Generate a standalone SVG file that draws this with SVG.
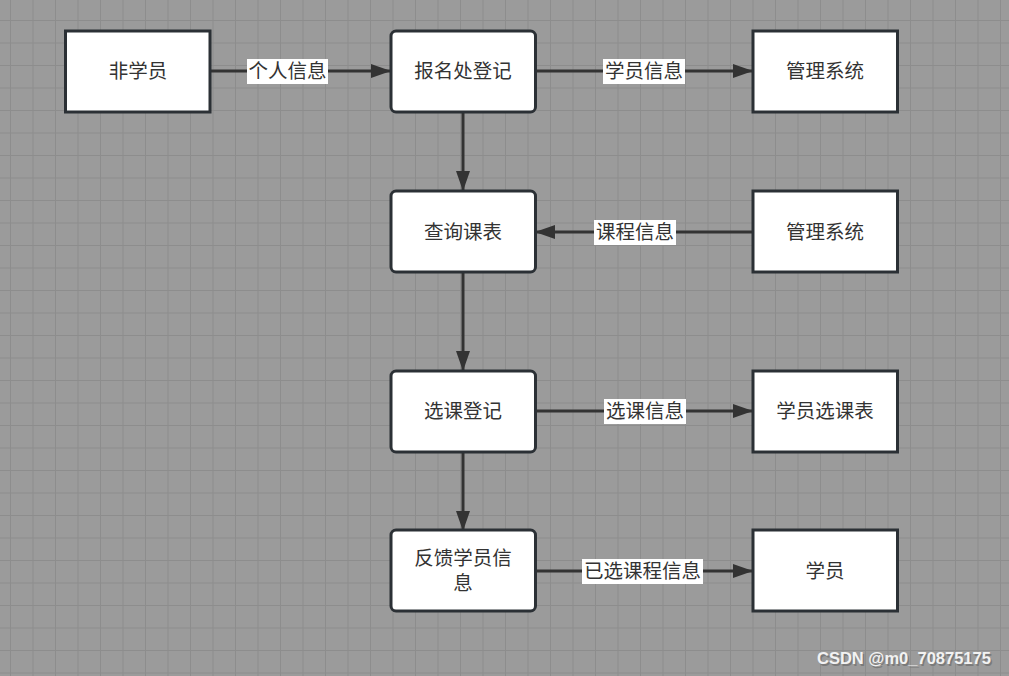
<svg xmlns="http://www.w3.org/2000/svg" width="1009" height="676" viewBox="0 0 1009 676">
<defs>
<pattern id="grid" x="10" y="20" width="22.5" height="22.5" patternUnits="userSpaceOnUse">
<rect width="22.5" height="22.5" fill="#9b9b9b"/>
<path d="M0 0V22.5M0 0H22.5" stroke="#8d8d8d" stroke-width="2" fill="none"/>
</pattern>
<marker id="arr" viewBox="0 0 20 14" refX="19" refY="7" markerWidth="20" markerHeight="14" markerUnits="userSpaceOnUse" orient="auto">
<path d="M0 0L20 7L0 14Z" fill="#333"/>
</marker>
</defs>
<style>
.box{fill:#fff;stroke:#2b3035;stroke-width:3}
.t{font-family:"Noto Sans CJK SC","Liberation Sans",sans-serif;font-size:19.5px;fill:#333;text-anchor:middle}
.ln{stroke:#333;stroke-width:3;fill:none;marker-end:url(#arr)}
.lb{fill:#fff}
.wm{font-family:"Liberation Sans",sans-serif;font-size:16.5px;font-weight:bold}
</style>
<rect width="1009" height="676" fill="url(#grid)"/>
<g id="connectors">
<line class="ln" x1="210" y1="71" x2="390" y2="71"/>
<line class="ln" x1="536" y1="71" x2="752" y2="71"/>
<line class="ln" x1="463" y1="112" x2="463" y2="190"/>
<line class="ln" x1="752" y1="232" x2="536" y2="232"/>
<line class="ln" x1="463" y1="272" x2="463" y2="370"/>
<line class="ln" x1="536" y1="411" x2="752" y2="411"/>
<line class="ln" x1="463" y1="452" x2="463" y2="530"/>
<line class="ln" x1="536" y1="571" x2="752" y2="571"/>
<rect class="lb" x="247" y="59" width="81" height="25"/>
<text class="t" x="287.5" y="78">个人信息</text>
<rect class="lb" x="603" y="59" width="82" height="25"/>
<text class="t" x="644" y="78">学员信息</text>
<rect class="lb" x="594" y="220" width="82" height="25"/>
<text class="t" x="635" y="239">课程信息</text>
<rect class="lb" x="604" y="399" width="82" height="25"/>
<text class="t" x="645" y="418">选课信息</text>
<rect class="lb" x="582" y="559" width="121" height="25"/>
<text class="t" x="642.5" y="578">已选课程信息</text>
</g>
<g id="n1"><rect class="box" x="65.5" y="31" width="144.5" height="81"/><text class="t" x="138" y="78">非学员</text></g>
<g id="n2"><rect class="box" x="391" y="31" width="144.5" height="81" rx="5"/><text class="t" x="463" y="78">报名处登记</text></g>
<g id="n3"><rect class="box" x="753" y="31" width="144.5" height="81"/><text class="t" x="825" y="78">管理系统</text></g>
<g id="n4"><rect class="box" x="391" y="191" width="144.5" height="81" rx="5"/><text class="t" x="463" y="239">查询课表</text></g>
<g id="n5"><rect class="box" x="753" y="191" width="144.5" height="81"/><text class="t" x="825" y="239">管理系统</text></g>
<g id="n6"><rect class="box" x="391" y="371" width="144.5" height="81" rx="5"/><text class="t" x="463" y="418">选课登记</text></g>
<g id="n7"><rect class="box" x="753" y="371" width="144.5" height="81"/><text class="t" x="825" y="418">学员选课表</text></g>
<g id="n8"><rect class="box" x="391" y="530" width="144.5" height="81" rx="5"/><text class="t"><tspan x="463" y="565">反馈学员信</tspan><tspan x="463" y="590">息</tspan></text></g>
<g id="n9"><rect class="box" x="753" y="530" width="144.5" height="81"/><text class="t" x="825" y="578">学员</text></g>
<text class="wm" x="818.5" y="665.5" fill="#7a7a7a">CSDN @m0_70875175</text>
<text class="wm" x="817" y="664" fill="#f2f2f2">CSDN @m0_70875175</text>
</svg>
